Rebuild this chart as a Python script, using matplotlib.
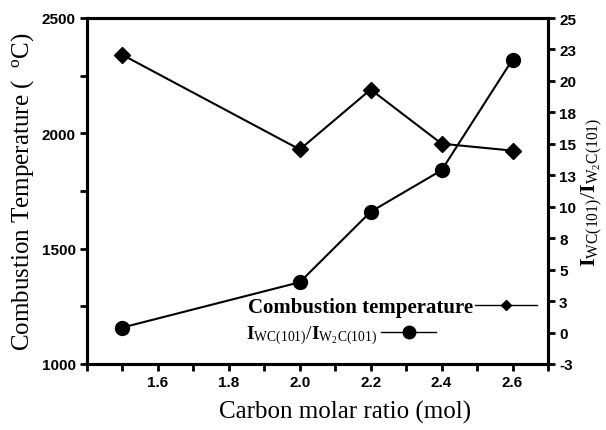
import matplotlib
matplotlib.use("Agg")
import matplotlib.pyplot as plt
from matplotlib.ticker import MultipleLocator, FixedLocator
from matplotlib.lines import Line2D

# Data
carbon_ratio = [1.5, 2.0, 2.2, 2.4, 2.6]
combustion_temp = [2340, 1930, 2190, 1955, 1925]
intensity_ratio = [0.4, 4.0, 9.6, 12.9, 21.7]

right_ticks = [-2.5, 0, 2.5, 5, 7.5, 10, 12.5, 15, 17.5, 20, 22.5, 25]
right_tick_labels = ["-3", "0", "3", "5", "8", "10", "13", "15", "18", "20", "23", "25"]
x_tick_labels = ["1.6", "1.8", "2.0", "2.2", "2.4", "2.6"]

plt.rcParams["mathtext.fontset"] = "custom"
plt.rcParams["mathtext.rm"] = "Liberation Serif"
plt.rcParams["mathtext.it"] = "Liberation Serif:italic"
plt.rcParams["mathtext.bf"] = "Liberation Serif:bold"

serif = "Liberation Serif"
tick_font = {"family": ["Liberation Sans Narrow", "Liberation Sans"], "weight": "bold", "size": 11}

fig = plt.figure(figsize=(6.06, 4.31), dpi=100)
ax = fig.add_axes([87 / 606, 1 - 365 / 431, (548 - 87) / 606, (365 - 19) / 431])
ax2 = ax.twinx()

ax.plot(carbon_ratio, combustion_temp, color="black", lw=1.5, marker="D", markersize=8)
ax2.plot(carbon_ratio, intensity_ratio, color="black", lw=1.5, marker="o", markersize=10)

ax.set_xlim(1.4, 2.7)
ax.set_ylim(1000, 2500)
ax2.set_ylim(-2.5, 25)

ax.xaxis.set_major_locator(FixedLocator([1.6, 1.8, 2.0, 2.2, 2.4, 2.6]))
ax.set_xticklabels(x_tick_labels)
ax.xaxis.set_minor_locator(MultipleLocator(0.1))
ax.yaxis.set_major_locator(MultipleLocator(500))
ax.yaxis.set_minor_locator(MultipleLocator(250))
ax2.yaxis.set_major_locator(FixedLocator(right_ticks))
ax2.set_yticklabels(right_tick_labels)

for a in (ax, ax2):
    for s in a.spines.values():
        s.set_linewidth(2.2)
    a.tick_params(which="both", direction="out", width=2, length=5, pad=3)
    for lab in a.get_xticklabels() + a.get_yticklabels():
        lab.set_fontproperties(tick_font)
ax.tick_params(axis="x", which="both", top=False)
ax2.tick_params(axis="x", which="both", top=False)

ax.set_xlabel("Carbon molar ratio (mol)", family=serif, fontsize=18, labelpad=8)
ax.xaxis.set_label_coords(0.56, -0.105)
ax.set_ylabel(r"Combustion Temperature (  $^{\rm o}$C)", family=serif, fontsize=18, labelpad=4)
ax2.set_ylabel(r"$\mathbf{I}_{\rm WC(101)}/\mathbf{I}_{\rm W_{2}C(101)}$", fontsize=16, labelpad=2)

h1 = Line2D([], [], color="black", lw=1, marker="D", markersize=5)
h2 = Line2D([], [], color="black", lw=1, marker="o", markersize=9)
leg1 = fig.legend([h1], ["Combustion temperature"], loc="center left",
                  bbox_to_anchor=(229 / 606, 1 - 308 / 431), frameon=False,
                  markerfirst=False, handlelength=3, handletextpad=0.1,
                  prop={"family": serif, "weight": "bold", "size": 15})
leg2 = fig.legend([h2], [r"$\mathbf{I}_{\rm WC(101)}/\mathbf{I}_{\rm W_{2}C(101)}$"], loc="center left",
                  bbox_to_anchor=(229 / 606, 1 - 336 / 431), frameon=False,
                  markerfirst=False, handlelength=2.8, handletextpad=0.2,
                  prop={"family": serif, "size": 14})

fig.savefig("out.png", dpi=100)
